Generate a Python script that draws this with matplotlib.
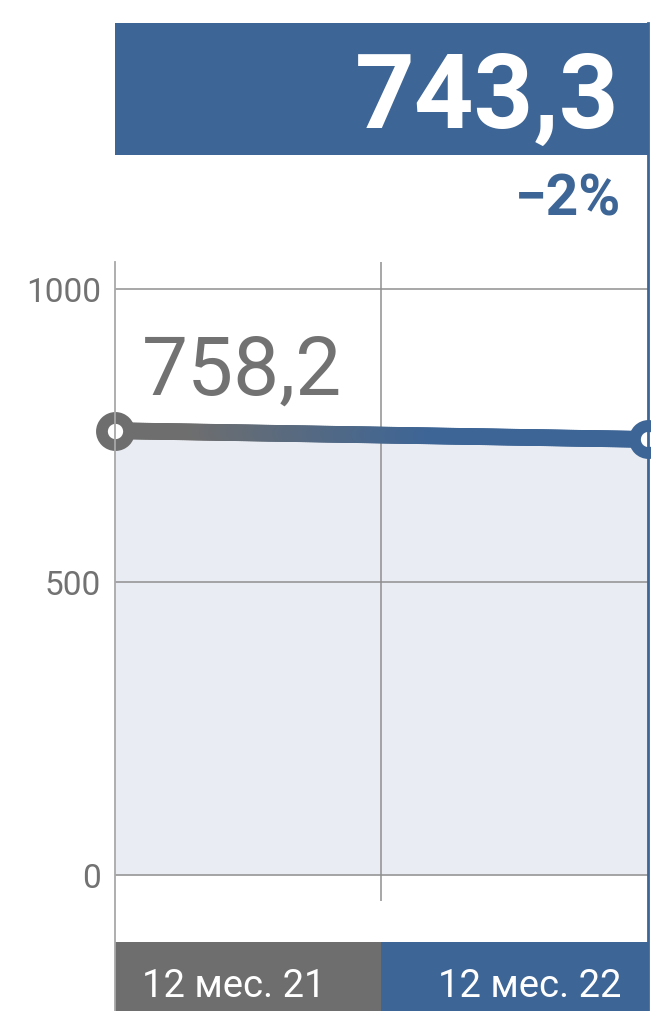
import numpy as np
import matplotlib
matplotlib.use("Agg")
import matplotlib.pyplot as plt
from matplotlib.collections import LineCollection
from matplotlib.patches import Rectangle
from matplotlib.lines import Line2D
import matplotlib.colors as mcolors

# ---- data ----
categories = ["12 мес. 21", "12 мес. 22"]
values = [758.2, 743.3]
yticks = [0, 500, 1000]
ytick_labels = ["0", "500", "1000"]

# ---- style ----
W, H = 651, 1012
GRAY = "#6E6E6E"
BLUE = "#3D6596"
FILL = "#E9ECF2"
TXT = "#727272"
GRID = "#8F8F8F"
FONT = ["Roboto", "DejaVu Sans"]
plt.rcParams["font.family"] = FONT

fig = plt.figure(figsize=(W / 100, H / 100), dpi=100)


def fx(x):
    return x / W


def fy(y):
    return 1 - y / H


X0, X1 = 115, 648
YT, YB = 263, 902
ax = fig.add_axes([fx(X0), fy(YB), fx(X1) - fx(X0), fy(YT) - fy(YB)])
y0px, y1000px = 876, 290
upp = 1000 / (y0px - y1000px)
ax.set_ylim(-(YB - y0px) * upp, 1000 + (y1000px - YT) * upp)
ax.set_xlim(0, 1)
ax.patch.set_alpha(0)
for s in ax.spines.values():
    s.set_visible(False)

xs = np.linspace(0, 1, len(values))
ax.fill_between(xs, values, 0, color=FILL, lw=0, zorder=0.2)

ax.set_yticks(yticks)
ax.set_yticklabels(ytick_labels, fontsize=24, color=TXT)
ax.tick_params(axis="y", length=0, pad=10)
ax.set_xticks([])
ax.yaxis.grid(True, color=GRID, lw=1.1)
ax.set_axisbelow(True)
ax.axvline(0.5, color=GRID, lw=1.1, zorder=0.6)

# gradient line
xx = np.linspace(xs[0], xs[-1], 300)
yy = np.interp(xx, xs, values)
pts = np.column_stack([xx, yy]).reshape(-1, 1, 2)
segs = np.concatenate([pts[:-1], pts[1:]], axis=1)
c0 = np.array(mcolors.to_rgb(GRAY))
c1 = np.array(mcolors.to_rgb(BLUE))
tm = (xx[:-1] + xx[1:]) / 2
t = np.clip((tm - 0.15) / (0.6 - 0.15), 0, 1)[:, None]
cols = c0 * (1 - t) + c1 * t
lc = LineCollection(segs, colors=cols, linewidths=12, capstyle="round", zorder=3)
ax.add_collection(lc)

mcols = [GRAY, BLUE]
for x, v, c in zip(xs, values, mcols):
    ax.plot([x], [v], marker="o", ms=19.5, mew=8.5, mec=c, mfc="white",
            clip_on=False, zorder=4)

# start value label
fig.text(fx(142), fy(395), f"{values[0]:.1f}".replace(".", ","), fontsize=59,
         fontweight="normal", color=TXT, ha="left", va="baseline")

# axis lines
fig.add_artist(Line2D([fx(115), fx(115)], [fy(263), fy(1012)],
                      color="#A8A8A8", lw=1.3, transform=fig.transFigure))
fig.add_artist(Line2D([fx(648), fx(648)], [fy(24), fy(1012)],
                      color=BLUE, lw=2, transform=fig.transFigure))

# top box
fig.add_artist(Rectangle((fx(115), fy(156)), fx(648) - fx(115), fy(24) - fy(156),
                         color=BLUE, transform=fig.transFigure, lw=0))
fig.text(fx(619), fy(128), f"{values[-1]:.1f}".replace(".", ","), fontsize=75,
         fontweight="bold", color="white", ha="right", va="baseline")
pct = round((values[-1] / values[0] - 1) * 100)
sign = "−" if pct < 0 else "+"
fig.text(fx(621), fy(215), f"{sign}{abs(pct)}%", fontsize=41,
         fontweight="bold", color=BLUE, ha="right", va="baseline")

# bottom category boxes
edges = [115, 381, 648]
for i, (cat, c) in enumerate(zip(categories, mcols)):
    l, r = edges[i], edges[i + 1]
    fig.add_artist(Rectangle((fx(l), 0), fx(r) - fx(l), fy(943),
                             color=c, transform=fig.transFigure, lw=0))
    if i == 0:
        fig.text(fx(l + 27), fy(997), cat, fontsize=27.5, color="white",
                 ha="left", va="baseline")
    else:
        fig.text(fx(r - 27), fy(997), cat, fontsize=27.5, color="white",
                 ha="right", va="baseline")

fig.savefig("out.png", dpi=100)
